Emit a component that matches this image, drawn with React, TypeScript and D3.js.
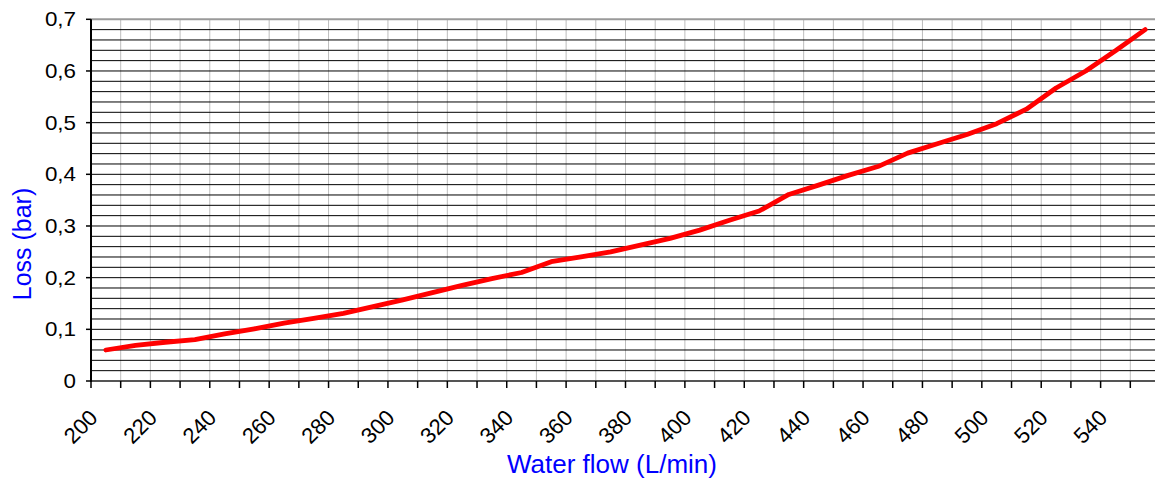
import React from "react";
import * as d3 from "d3";

// water flow (L/min) and measured pressure loss (bar)
const flow = [
	205, 215, 225, 235, 245, 255, 265, 275, 285, 295, 305, 315,
	325, 335, 345, 355, 365, 375, 385, 395, 405, 415, 425, 435,
	445, 455, 465, 475, 485, 495, 505, 515, 525, 535, 545, 555,
];
const loss = [
	0.06, 0.069, 0.075, 0.08, 0.091, 0.101, 0.112, 0.121, 0.131, 0.144, 0.157, 0.171,
	0.185, 0.198, 0.21, 0.231, 0.24, 0.25, 0.263, 0.276, 0.292, 0.311, 0.329, 0.361,
	0.379, 0.398, 0.415, 0.441, 0.459, 0.477, 0.498, 0.526, 0.567, 0.6, 0.639, 0.68,
];

const xLabels = [200, 220, 240, 260, 280, 300, 320, 340, 360, 380, 400, 420, 440, 460, 480, 500, 520, 540];
const yLabels = [0, 0.1, 0.2, 0.3, 0.4, 0.5, 0.6, 0.7];

const width = 1155;
const height = 479;
const margin = { top: 19.3, right: -5, bottom: 98, left: 91 };
const font = "'Liberation Sans', Arial, sans-serif";

export default function App() {
	const x = d3.scaleLinear()
		.domain([200, 560])
		.range([margin.left, width - margin.right]);
	const y = d3.scaleLinear()
		.domain([0, 0.7])
		.range([height - margin.bottom, margin.top]);

	const xMinor = d3.range(200, 560, 10);
	const yMinor = d3.range(1, 35).map(i => i * 0.02);

	const line = d3.line<number>()
		.x((d, i) => x(flow[i]))
		.y(d => y(d));

	const fmt = (v: number) => (v === 0 ? "0" : d3.format(".1f")(v).replace(".", ","));

	return (
		<svg width={width} height={height} style={{ position: "absolute", left: 0, top: 0, background: "#fff" }}>
			{/* vertical grid */}
			{xMinor.slice(1).map(v => (
				<line key={"vg" + v} x1={x(v)} x2={x(v)} y1={y(0.7)} y2={y(0)} stroke="#bdbdbd" strokeWidth={1} />
			))}
			{/* horizontal grid */}
			{yMinor.map(v => (
				<line key={"hg" + v} x1={x(200)} x2={width} y1={y(v)} y2={y(v)} stroke="#000" strokeWidth={1} />
			))}
			<line x1={x(200)} x2={width} y1={y(0.7)} y2={y(0.7)} stroke="#9a9a9a" strokeWidth={2} />
			<line x1={x(200)} x2={width} y1={y(0)} y2={y(0)} stroke="#555" strokeWidth={2} />
			<line x1={x(200)} x2={x(200)} y1={y(0.7)} y2={y(0) + 1} stroke="#000" strokeWidth={2} />

			{/* y ticks */}
			{yLabels.map(v => (
				<g key={"yt" + v}>
					<line x1={x(200) - 5} x2={x(200)} y1={y(v)} y2={y(v)} stroke="#000" strokeWidth={1.5} />
					<text transform={`translate(76,${y(v)}) scale(1.12,1)`} dy="0.35em" textAnchor="end"
						fontFamily={font} fontSize={20} fill="#000">{fmt(v)}</text>
				</g>
			))}

			{/* x ticks */}
			{xMinor.map(v => (
				<line key={"xt" + v} x1={x(v)} x2={x(v)} y1={y(0)} y2={y(0) + 7} stroke="#000" strokeWidth={1.5} />
			))}
			{xLabels.map(v => (
				<text key={"xl" + v} transform={`translate(${x(v) + 8},419) rotate(-45)`} textAnchor="end"
					fontFamily={font} fontSize={22} fill="#000">{v}</text>
			))}

			<path d={line(loss) as string} fill="none" stroke="#ff0000" strokeWidth={4.8}
				strokeLinejoin="round" strokeLinecap="round" />

			<text x={612} y={473} textAnchor="middle" fontFamily={font} fontSize={26} fill="#0000ff">Water flow (L/min)</text>
			<text transform="translate(31,244) rotate(-90)" textAnchor="middle" fontFamily={font} fontSize={25} fill="#0000ff">Loss (bar)</text>
		</svg>
	);
}
